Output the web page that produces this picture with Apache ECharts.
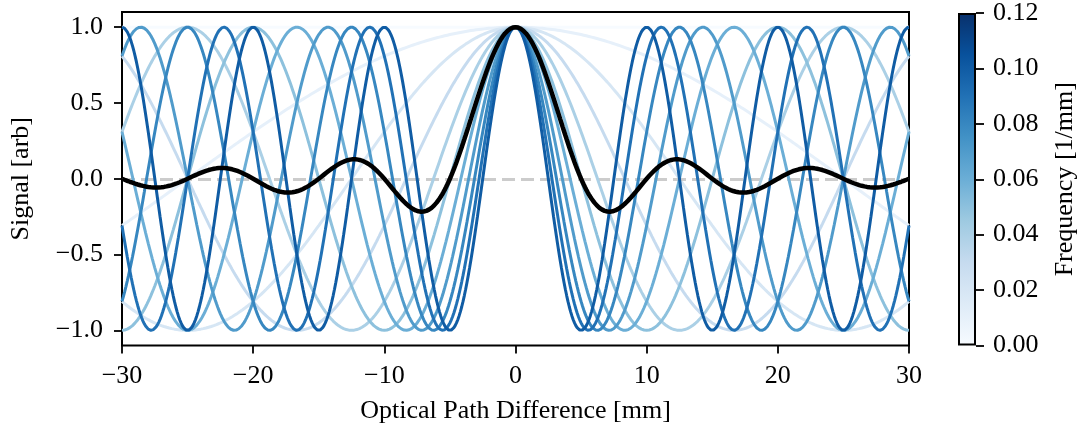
<!DOCTYPE html>
<html>
<head>
<meta charset="utf-8">
<script src="https://cdn.jsdelivr.net/npm/echarts@6/dist/echarts.min.js"></script>
<style>
  html, body { margin: 0; padding: 0; background: #ffffff; }
  #chart { width: 1086px; height: 432px; }
</style>
</head>
<body>
<div id="chart"></div>
<script>
// Spectral components (1/mm), one cosine fringe per frequency
const frequencies = [0.00, 0.01, 0.02, 0.03, 0.04, 0.05, 0.06, 0.07, 0.08, 0.09, 0.10];
// Optical path difference range [mm]
const opdRange = [-30, 30];
const opdStep = 0.1;
// Tick labels
const xTicks = [-30, -20, -10, 0, 10, 20, 30];
const yTicks = [-1.0, -0.5, 0.0, 0.5, 1.0];
const cbarTicks = [0.00, 0.02, 0.04, 0.06, 0.08, 0.10, 0.12];
const cbarMax = 0.12;

// matplotlib "Blues" colormap stops
const blues = ['#f7fbff', '#deebf7', '#c6dbef', '#9ecae1', '#6baed6', '#4292c6', '#2171b5', '#08519c', '#08306b'];
function hexToRgb(h) { return [1, 3, 5].map(i => parseInt(h.substr(i, 2), 16)); }
function bluesAt(t) {
  t = Math.max(0, Math.min(1, t));
  const p = t * (blues.length - 1);
  const i = Math.min(Math.floor(p), blues.length - 2);
  const f = p - i;
  const a = hexToRgb(blues[i]), b = hexToRgb(blues[i + 1]);
  const c = a.map((v, k) => Math.round(v + (b[k] - v) * f));
  return 'rgb(' + c.join(',') + ')';
}

const FONT = 'Liberation Serif';
const FS = 26;
const minus = s => String(s).replace('-', '\u2212');

// OPD samples
const opd = [];
for (let x = opdRange[0]; x <= opdRange[1] + 1e-9; x += opdStep) opd.push(+x.toFixed(4));

// Fringe for each frequency
const fringes = frequencies.map(f => opd.map(x => [x, Math.cos(2 * Math.PI * f * x)]));
// Interferogram of a flat band from 0 to the highest frequency
const fMax = frequencies[frequencies.length - 1];
const interferogram = opd.map(x => {
  const u = 2 * Math.PI * fMax * x;
  return [x, Math.abs(u) < 1e-9 ? 1 : Math.sin(u) / u];
});

const series = [];
series.push({
  name: 'zero', type: 'line', data: [], silent: true, z: 1,
  markLine: {
    silent: true, symbol: 'none', animation: false, label: { show: false },
    lineStyle: { color: '#cccccc', type: [13, 6], width: 3 },
    data: [{ yAxis: 0 }]
  }
});
frequencies.forEach((f, k) => {
  series.push({
    name: 'f=' + f, type: 'line', data: fringes[k], showSymbol: false, z: 2 + k,
    lineStyle: { color: bluesAt(f / cbarMax), width: 3 }, silent: true
  });
});
series.push({
  name: 'sum', type: 'line', data: interferogram, showSymbol: false, z: 50,
  lineStyle: { color: '#000000', width: 4.5 }, silent: true
});
// Colour bar
series.push({
  name: 'cbar', type: 'bar', xAxisIndex: 1, yAxisIndex: 1, data: [cbarMax],
  barWidth: '100%', silent: true,
  itemStyle: {
    borderColor: '#000', borderWidth: 2,
    color: new echarts.graphic.LinearGradient(0, 1, 0, 0,
      blues.map((c, i) => ({ offset: i / (blues.length - 1), color: c })))
  }
});

const axisText = { fontFamily: FONT, fontSize: FS, color: '#000' };
const tickStyle = { color: '#000', width: 1.8 };

const option = {
  animation: false,
  backgroundColor: '#ffffff',
  grid: [
    { left: 122, right: 177, top: 12, bottom: 86.5, show: true, borderColor: '#000', borderWidth: 2, containLabel: false },
    { left: 958, width: 18, top: 12, bottom: 86.5, show: false, containLabel: false }
  ],
  xAxis: [
    {
      type: 'value', gridIndex: 0, min: opdRange[0], max: opdRange[1], interval: 10,
      axisLine: { show: false, onZero: false },
      axisTick: { show: true, inside: false, length: 8, customValues: xTicks, lineStyle: tickStyle },
      axisLabel: Object.assign({ margin: 18, customValues: xTicks, formatter: v => minus(v) }, axisText),
      splitLine: { show: false },
      name: 'Optical Path Difference [mm]', nameLocation: 'middle', nameGap: 53,
      nameTextStyle: axisText
    },
    {
      type: 'category', gridIndex: 1, data: [''], show: false
    }
  ],
  yAxis: [
    {
      type: 'value', gridIndex: 0, min: -1.1, max: 1.1,
      axisLine: { show: false, onZero: false },
      axisTick: { show: true, inside: false, length: 8, customValues: yTicks, lineStyle: tickStyle },
      axisLabel: Object.assign({ margin: 19, customValues: yTicks, formatter: v => minus(v.toFixed(1)) }, axisText),
      splitLine: { show: false },
      name: 'Signal [arb]', nameLocation: 'middle', nameGap: 88, nameRotate: 90,
      nameTextStyle: axisText
    },
    {
      type: 'value', gridIndex: 1, position: 'right', min: 0, max: cbarMax, interval: 0.02,
      axisLine: { show: false, onZero: false },
      axisTick: { show: true, inside: false, length: 8, customValues: cbarTicks, lineStyle: tickStyle },
      axisLabel: Object.assign({ margin: 17, customValues: cbarTicks, formatter: v => v.toFixed(2) }, axisText),
      splitLine: { show: false },
      name: 'Frequency [1/mm]', nameLocation: 'middle', nameGap: 76, nameRotate: 90,
      nameTextStyle: axisText
    }
  ],
  series: series
};

const chart = echarts.init(document.getElementById('chart'), null, { renderer: 'canvas' });
chart.setOption(option);
</script>
</body>
</html>
